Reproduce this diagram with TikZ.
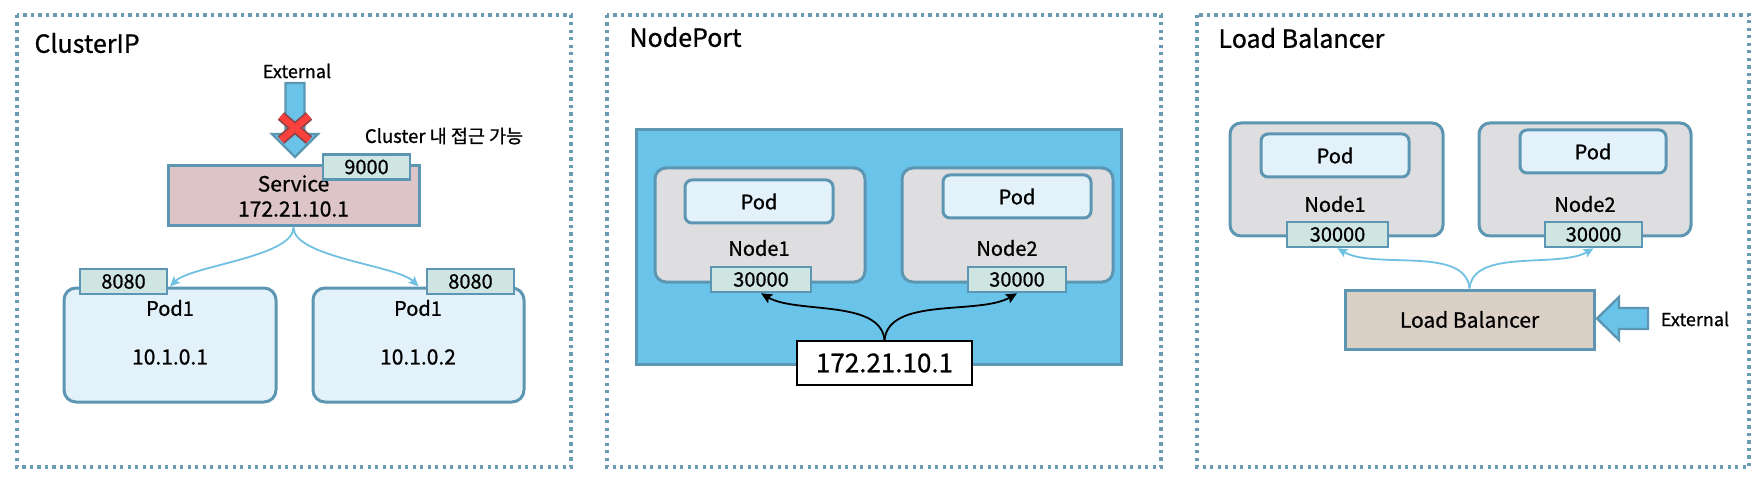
\documentclass[tikz,border=0pt]{standalone}
\usepackage{fontspec}
\setmainfont{Noto Sans CJK KR}[FakeBold=0.8]
\usetikzlibrary{arrows.meta, calc}
\definecolor{Edgecol}{RGB}{92,150,178}
\definecolor{Dotcol}{RGB}{105,155,178}
\definecolor{Skycol}{RGB}{106,196,234}
\definecolor{Podcol}{RGB}{227,242,250}
\definecolor{Nodecol}{RGB}{222,222,224}
\definecolor{Portcol}{RGB}{206,229,225}
\definecolor{Svccol}{RGB}{220,196,199}
\definecolor{Lbcol}{RGB}{218,208,198}
\definecolor{Arrcol}{RGB}{112,192,226}
\definecolor{Xcol}{RGB}{250,64,60}
\definecolor{Xedge}{RGB}{140,70,72}
\newcommand{\fsz}[1]{\fontsize{#1}{#1}\selectfont}

\tikzset{
  frame/.style={draw=Dotcol, line width=3.2pt, dash pattern=on 3.2pt off 4.3pt},
  paneltitle/.style={anchor=west, font=\fsz{25}},
  box/.style={draw=Edgecol, line width=3pt, inner sep=0pt},
  svcbox/.style={box, fill=Svccol},
  podbox/.style={box, fill=Podcol, rounded corners=7pt, font=\fsz{20}},
  nodebox/.style={box, fill=Nodecol, rounded corners=11pt},
  portbox/.style={box, fill=Portcol, line width=2.6pt, minimum height=25pt, font=\fsz{20}},
  txt/.style={font=\fsz{20}},
  flow/.style={draw=Arrcol, line width=1.8pt, -{Stealth[length=10pt, width=9pt, inset=2pt]}},
  blackflow/.style={draw=black, line width=1.8pt, -{Stealth[length=11pt, width=10pt, inset=2pt]}},
  blockarrow/.style={draw=Edgecol, fill=Skycol, line width=2.4pt, line join=miter},
}

\begin{document}
\begin{tikzpicture}[x=1pt, y=-1pt]
  \useasboundingbox (0,0) rectangle (1760,478);

  % ClusterIP
  \draw[frame] (17,15) rectangle (571,467);
  \node[paneltitle] (t1) at (31,43) {ClusterIP};
  \node[txt, font=\fsz{18}] (ext1) at (297,71) {External};
  \filldraw[blockarrow] (285.5,83) -- (304.5,83) -- (304.5,134) -- (318,134)
    -- (295,157) -- (272,134) -- (285.5,134) -- cycle;
  \draw[line width=10pt, Xedge] (281,116) -- (309,140) (309,116) -- (281,140);
  \draw[line width=6.5pt, Xcol] (281,116) -- (309,140) (309,116) -- (281,140);
  \node[txt, font=\fsz{18.5}] (note1) at (444,136) {Cluster 내 접근 가능};

  \node[svcbox, minimum width=251pt, minimum height=60pt, align=center, font=\fsz{21}]
    (svc) at (293.5,196) {Service\\[4pt]172.21.10.1};
  \node[portbox, minimum width=87pt] (p9000) at (366.5,167) {9000};

  \node[podbox, rounded corners=12pt, minimum width=212pt, minimum height=114pt] (pod1a) at (170,345) {};
  \node[podbox, rounded corners=12pt, minimum width=211pt, minimum height=114pt] (pod1b) at (418.5,345) {};
  \node[portbox, minimum width=87pt] (p8080a) at (123.5,281.5) {8080};
  \node[portbox, minimum width=87pt] (p8080b) at (470.5,281.5) {8080};
  \node[txt] (pod1aname) at (170,308) {Pod1};
  \node[txt, font=\fsz{21}] (pod1aip) at (170,357) {10.1.0.1};
  \node[txt] (pod1bname) at (418,308) {Pod1};
  \node[txt, font=\fsz{21}] (pod1bip) at (418,357) {10.1.0.2};

  \draw[flow] (svc.south) to[out=-90, in=45, looseness=0.55] (pod1a.north);
  \draw[flow] (svc.south) to[out=-90, in=135, looseness=0.55] (pod1b.north);

  % NodePort
  \draw[frame] (607,15) rectangle (1161,467);
  \node[paneltitle] (t2) at (626,37) {NodePort};
  \node[box, fill=Skycol, minimum width=485pt, minimum height=234pt] (cl2) at (878.5,247) {};
  \node[nodebox, minimum width=210pt, minimum height=114pt] (n2a) at (760,225) {};
  \node[nodebox, minimum width=211pt, minimum height=114pt] (n2b) at (1007.5,225) {};
  \node[podbox, minimum width=148pt, minimum height=43pt] (pod2a) at (759,201.5) {Pod};
  \node[podbox, minimum width=148pt, minimum height=43pt] (pod2b) at (1017,196.5) {Pod};
  \node[txt] (n2aname) at (759,248) {Node1};
  \node[txt] (n2bname) at (1007,248) {Node2};
  \node[portbox, minimum width=100pt] (p2a) at (761,279.5) {30000};
  \node[portbox, minimum width=98pt] (p2b) at (1017,279.5) {30000};
  \node[draw=black, fill=white, line width=1.6pt, minimum width=175pt, minimum height=44pt,
    inner sep=0pt, font=\fsz{26}] (ip2) at (884.5,363) {172.21.10.1};
  \draw[blackflow] (ip2.north) to[out=95, in=-30, looseness=0.8] (p2a.south);
  \draw[blackflow] (ip2.north) to[out=85, in=210, looseness=0.8] (p2b.south);

  % Load Balancer
  \draw[frame] (1197,15) rectangle (1749,467);
  \node[paneltitle] (t3) at (1215,38) {Load Balancer};
  \node[nodebox, minimum width=213pt, minimum height=113pt] (n3a) at (1336.5,179.5) {};
  \node[nodebox, minimum width=212pt, minimum height=113pt] (n3b) at (1585,179.5) {};
  \node[podbox, minimum width=148pt, minimum height=43pt] (pod3a) at (1335,155.5) {Pod};
  \node[podbox, minimum width=146pt, minimum height=43pt] (pod3b) at (1593,151.5) {Pod};
  \node[txt] (n3aname) at (1335,204) {Node1};
  \node[txt] (n3bname) at (1585,204) {Node2};
  \node[portbox, minimum width=101pt] (p3a) at (1337.5,234.5) {30000};
  \node[portbox, minimum width=97pt] (p3b) at (1593.5,234.5) {30000};
  \node[box, fill=Lbcol, minimum width=249pt, minimum height=59pt, font=\fsz{21}]
    (lb) at (1469.5,319.5) {Load Balancer};
  \draw[flow] (lb.north) to[out=95, in=-30, looseness=0.8] (p3a.south);
  \draw[flow] (lb.north) to[out=85, in=210, looseness=0.8] (p3b.south);
  \node[txt, font=\fsz{18}] (ext3) at (1695,319) {External};
  \filldraw[blockarrow] (1648,308) -- (1648,329) -- (1619,329) -- (1619,340)
    -- (1597,318.5) -- (1619,297) -- (1619,308) -- cycle;
\end{tikzpicture}
\end{document}
